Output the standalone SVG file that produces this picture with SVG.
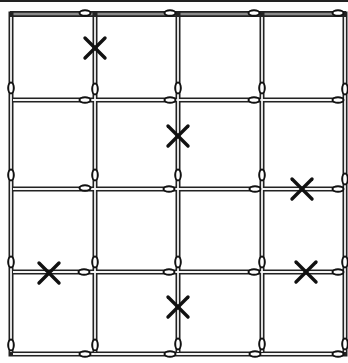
<svg xmlns="http://www.w3.org/2000/svg" width="348" height="363" viewBox="0 0 348 363">
<defs>
<style>
.rail{stroke:#222;stroke-width:5;fill:none;stroke-linecap:square}
.gap{stroke:#f4f4f4;stroke-width:1.8;fill:none;stroke-linecap:butt}
.top{stroke:#222;stroke-width:6;fill:none}
.topgap{stroke:#8a8a8a;stroke-width:2.5;fill:none}
.loop{fill:#fff;stroke:#111;stroke-width:2}
.x{stroke:#111;stroke-width:3.4;stroke-linecap:round}
</style>
<ellipse id="lh" class="loop" cx="0" cy="0" rx="5.5" ry="2.8"/>
<ellipse id="lv" class="loop" cx="0" cy="0" rx="2.8" ry="5.5"/>
<g id="xm"><line class="x" x1="-10" y1="-10" x2="10" y2="10"/><line class="x" x1="10" y1="-10" x2="-10" y2="10"/></g>
</defs>
<rect width="348" height="363" fill="#fff"/>
<line x1="0" y1="1" x2="348" y2="1" stroke="#222" stroke-width="2"/>
<g id="grid">
<line class="top" x1="10" y1="14" x2="346" y2="14"/>
<line class="topgap" x1="13" y1="14" x2="343" y2="14"/>
<path class="rail" d="M11 14V354M95 14V354M178 14V354M262 14V354M345 14V354M11 100H345M11 189H345M11 272H345M11 354H345"/>
<path class="gap" d="M11 17V352M95 17V352M178 17V352M262 17V352M345 17V352M13 100H343M13 189H343M13 272H343M13 354H343"/>
</g>
<g id="loops">
<use href="#lh" x="85" y="13"/><use href="#lh" x="170" y="13"/><use href="#lh" x="254" y="13"/><use href="#lh" x="338" y="13"/>
<use href="#lv" x="11" y="88"/><use href="#lv" x="95" y="89"/><use href="#lv" x="178" y="88"/><use href="#lv" x="262" y="88"/><use href="#lv" x="345" y="89"/>
<use href="#lh" x="85" y="100"/><use href="#lh" x="170" y="100"/><use href="#lh" x="254" y="100"/><use href="#lh" x="338" y="100"/>
<use href="#lv" x="11" y="175"/><use href="#lv" x="95" y="175"/><use href="#lv" x="178" y="175"/><use href="#lv" x="262" y="175"/><use href="#lv" x="345" y="179"/>
<use href="#lh" x="85" y="188"/><use href="#lh" x="169" y="189"/><use href="#lh" x="255" y="189"/><use href="#lh" x="338" y="189"/>
<use href="#lv" x="11" y="262"/><use href="#lv" x="95" y="262"/><use href="#lv" x="178" y="262"/><use href="#lv" x="262" y="262"/><use href="#lv" x="345" y="262"/>
<use href="#lh" x="84" y="272"/><use href="#lh" x="169" y="272"/><use href="#lh" x="254" y="272"/><use href="#lh" x="338" y="272"/>
<use href="#lv" x="11" y="345"/><use href="#lv" x="95" y="345"/><use href="#lv" x="178" y="344"/><use href="#lv" x="262" y="344"/><use href="#lv" x="345" y="344"/>
<use href="#lh" x="85" y="354"/><use href="#lh" x="170" y="354"/><use href="#lh" x="255" y="354"/><use href="#lh" x="338" y="354"/>
</g>
<g id="marks">
<use href="#xm" x="95" y="48"/>
<use href="#xm" x="178" y="136"/>
<use href="#xm" x="302" y="189"/>
<use href="#xm" x="49" y="273"/>
<use href="#xm" x="306" y="272"/>
<use href="#xm" x="178" y="307"/>
</g>
</svg>
